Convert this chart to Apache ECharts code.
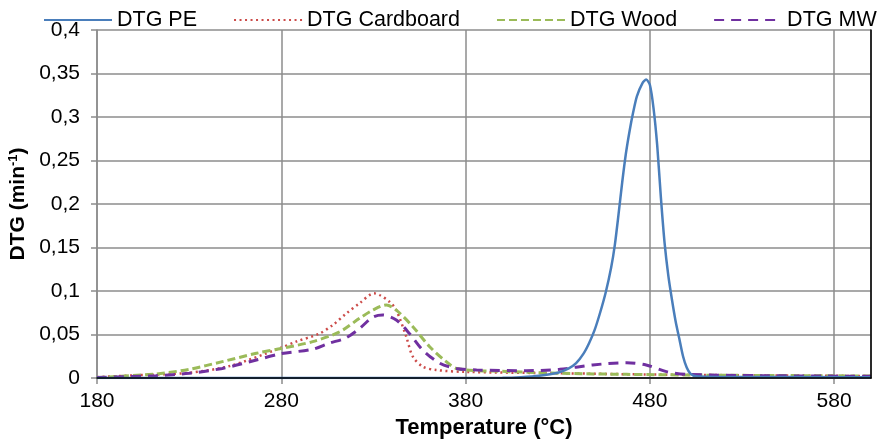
<!DOCTYPE html>
<html>
<head>
<meta charset="utf-8">
<script src="https://cdn.jsdelivr.net/npm/echarts@6/dist/echarts.min.js"></script>
<style>
  html, body { margin: 0; padding: 0; background: #fff; }
  #chart { width: 883px; height: 439px; }
</style>
</head>
<body>
<div id="chart"></div>
<script>
// temperatures (°C) and DTG values (min-1)
const peTemp = [180, 300, 380, 400, 410, 420, 430, 436, 440, 444, 447, 450, 453, 456, 459, 461, 463, 465, 467, 469, 471, 473, 476, 478, 480, 482, 484, 486, 488, 490, 492, 494, 496, 498, 500, 502, 505, 520, 600]
const peDtg = [0, 0, 0, 0.0003, 0.001, 0.0025, 0.006, 0.011, 0.017, 0.028, 0.040, 0.055, 0.075, 0.098, 0.127, 0.153, 0.188, 0.225, 0.258, 0.284, 0.306, 0.324, 0.339, 0.343, 0.337, 0.31, 0.267, 0.207, 0.155, 0.118, 0.09, 0.065, 0.045, 0.025, 0.012, 0.005, 0.002, 0.0012, 0.001]

const cardTemp = [180, 200, 230, 252, 279, 288, 300.7, 308, 315.2, 322.5, 330.3, 333.3, 338.7, 342.4, 347.8, 351.4, 356.8, 364, 380, 430, 480, 540, 600]
const cardDtg = [0.001, 0.003, 0.006, 0.0138, 0.034, 0.0418, 0.051, 0.061, 0.074, 0.086, 0.0973, 0.0954, 0.0877, 0.078, 0.0475, 0.0245, 0.013, 0.0092, 0.007, 0.0055, 0.004, 0.003, 0.0023]

const woodTemp = [180, 212, 230, 248, 266.5, 280, 297, 311.6, 322.5, 329.7, 337, 342.4, 351.4, 360.5, 369.5, 375, 387.6, 394.7, 431, 467.5, 503, 600]
const woodDtg = [0.0005, 0.0046, 0.010, 0.0188, 0.0284, 0.034, 0.0418, 0.053, 0.0686, 0.078, 0.084, 0.078, 0.059, 0.036, 0.0188, 0.011, 0.0084, 0.008, 0.0054, 0.0042, 0.0034, 0.0023]

const mwTemp = [180, 212, 230, 248, 266.5, 280, 297, 306, 315, 322.5, 329.7, 335, 342.4, 349.6, 356.8, 366, 375, 386, 413, 431, 449, 467.5, 478, 489, 500, 540, 600]
const mwDtg = [0.0005, 0.0027, 0.0054, 0.011, 0.0207, 0.028, 0.033, 0.040, 0.046, 0.057, 0.070, 0.0724, 0.0667, 0.051, 0.032, 0.017, 0.011, 0.0092, 0.0084, 0.010, 0.015, 0.0176, 0.015, 0.0073, 0.0042, 0.0027, 0.002]

const seriesNames = ['DTG PE', 'DTG Cardboard', 'DTG Wood', 'DTG MW']
const xTicks = [180, 280, 380, 480, 580]

function zip(xs, ys) {
  return xs.map((x, i) => [x, ys[i]])
}

let myChart = echarts.init(document.getElementById('chart'))
const font = "'Liberation Sans', Arial, sans-serif"
const gridGray = '#8c8c8c'

let option = {
  animation: false,
  textStyle: { fontFamily: font },
  legend: {
    top: 4,
    left: 38,
    width: 900,
    itemWidth: 68,
    itemHeight: 14,
    itemGap: 36,
    itemStyle: { opacity: 0 },
    textStyle: { fontSize: 21.5, color: '#000', fontFamily: font },
    data: seriesNames
  },
  grid: {
    left: 97,
    right: 12,
    top: 30,
    bottom: 61,
    outerBoundsMode: 'none'
  },
  xAxis: [
    {
      type: 'value',
      min: 180,
      max: 600,
      interval: 100,
      name: 'Temperature (°C)',
      nameLocation: 'middle',
      nameGap: 28,
      nameTextStyle: { fontSize: 22, fontWeight: 'bold', color: '#000', fontFamily: font },
      axisLine: { lineStyle: { color: gridGray, width: 1.5 } },
      axisTick: { show: true, length: 6, lineStyle: { color: gridGray, width: 1.5 } },
      axisLabel: {
        fontSize: 21,
        color: '#000',
        margin: 13,
        showMaxLabel: false,
        formatter: v => (xTicks.indexOf(v) >= 0 ? String(v) : '')
      },
      splitLine: { show: true, lineStyle: { color: gridGray, width: 1.5 } }
    },
    {
      type: 'value',
      position: 'top',
      min: 180,
      max: 600,
      z: 10,
      axisLine: { show: true, lineStyle: { color: '#000', width: 1.5 } },
      axisTick: { show: false },
      axisLabel: { show: false },
      splitLine: { show: false }
    }
  ],
  yAxis: [
    {
      type: 'value',
      min: 0,
      max: 0.4,
      interval: 0.05,
      name: 'DTG (min{sup|-1})',
      nameLocation: 'middle',
      nameGap: 68,
      nameTextStyle: {
        fontSize: 21,
        fontWeight: 'bold',
        color: '#000',
        fontFamily: font,
        rich: {
          sup: { fontSize: 13, fontWeight: 'bold', verticalAlign: 'top', color: '#000', fontFamily: font, padding: [0, 0, 8, 0] }
        }
      },
      axisLine: { show: true, lineStyle: { color: gridGray, width: 1.5 } },
      axisTick: { show: true, length: 6, lineStyle: { color: gridGray, width: 1.5 } },
      axisLabel: {
        fontSize: 21,
        color: '#000',
        margin: 17,
        formatter: v => String(+v.toFixed(2)).replace('.', ',')
      },
      splitLine: { show: true, lineStyle: { color: gridGray, width: 1.5 } }
    },
    {
      type: 'value',
      position: 'right',
      min: 0,
      max: 0.4,
      z: 10,
      axisLine: { show: true, lineStyle: { color: '#000', width: 1.5 } },
      axisTick: { show: false },
      axisLabel: { show: false },
      splitLine: { show: false }
    }
  ],
  series: [
    {
      name: seriesNames[0],
      type: 'line',
      symbol: 'none',
      smooth: 0.25,
      z: 5,
      color: '#4a7ebb',
      lineStyle: { color: '#4a7ebb', width: 2.5 },
      data: zip(peTemp, peDtg)
    },
    {
      name: seriesNames[1],
      type: 'line',
      symbol: 'none',
      smooth: 0.3,
      color: '#cc4c4a',
      lineStyle: { color: '#cc4c4a', width: 2.5, type: [2, 3.5] },
      data: zip(cardTemp, cardDtg)
    },
    {
      name: seriesNames[2],
      type: 'line',
      symbol: 'none',
      smooth: 0.3,
      color: '#9bbb59',
      lineStyle: { color: '#9bbb59', width: 3, type: [8, 4] },
      data: zip(woodTemp, woodDtg)
    },
    {
      name: seriesNames[3],
      type: 'line',
      symbol: 'none',
      smooth: 0.3,
      color: '#7030a0',
      lineStyle: { color: '#7030a0', width: 3, type: [10, 7] },
      data: zip(mwTemp, mwDtg)
    }
  ]
}

myChart.setOption(option)
</script>
</body>
</html>
